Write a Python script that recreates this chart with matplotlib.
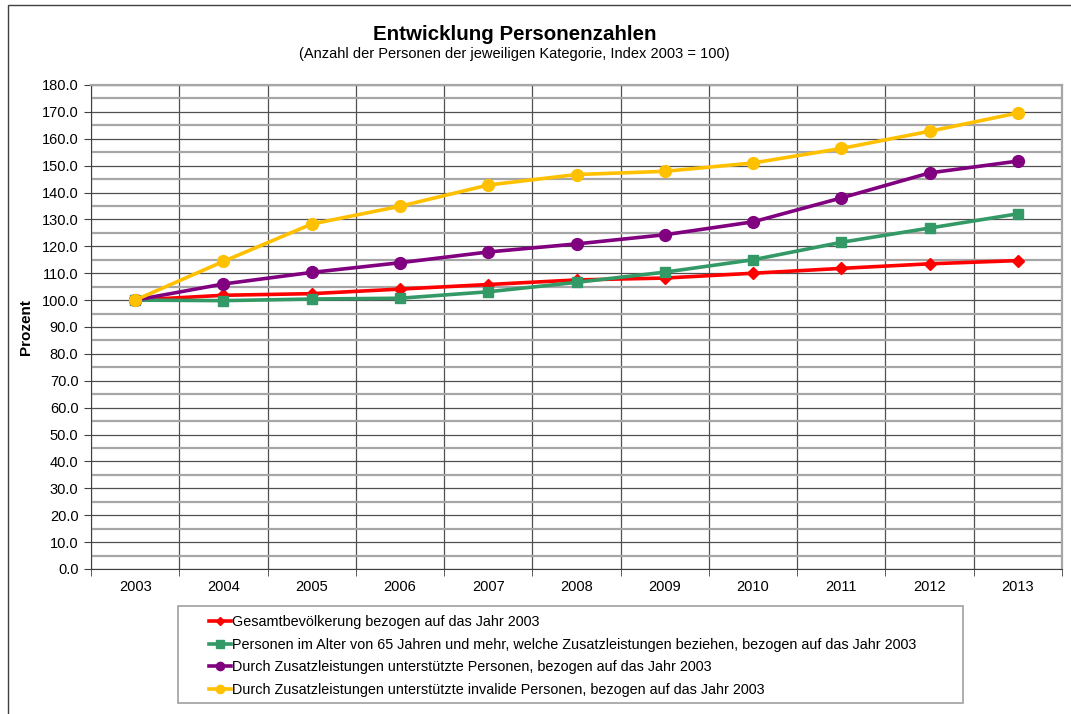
import matplotlib
matplotlib.use('Agg')
import matplotlib.pyplot as plt
from matplotlib.patches import Rectangle
from matplotlib.ticker import MultipleLocator, FixedLocator

plt.rcParams['font.family'] = ['Liberation Sans', 'DejaVu Sans']

# Data (index 2003 = 100)
years = ['2003', '2004', '2005', '2006', '2007', '2008', '2009', '2010', '2011', '2012', '2013']
gesamt = [100.0, 101.8, 102.4, 104.1, 105.8, 107.5, 108.2, 110.0, 111.8, 113.5, 114.7]
ab65 = [100.0, 99.8, 100.4, 100.7, 103.1, 106.6, 110.4, 115.0, 121.5, 126.8, 132.1]
unterstuetzt = [100.0, 106.0, 110.3, 113.9, 117.9, 120.9, 124.3, 129.1, 138.0, 147.3, 151.7]
invalide = [100.0, 114.4, 128.3, 134.9, 142.8, 146.7, 147.9, 151.0, 156.4, 162.8, 169.6]

labels = [
    'Gesamtbevölkerung bezogen auf das Jahr 2003',
    'Personen im Alter von 65 Jahren und mehr, welche Zusatzleistungen beziehen, bezogen auf das Jahr 2003',
    'Durch Zusatzleistungen unterstützte Personen, bezogen auf das Jahr 2003',
    'Durch Zusatzleistungen unterstützte invalide Personen, bezogen auf das Jahr 2003',
]

W, H = 1071, 714
fig = plt.figure(figsize=(W / 100, H / 100), dpi=100)

# outer chart border (only left/top visible in the crop)
fig.patches.append(Rectangle((8 / W, -0.1), 1.2, 1 - 5 / H + 0.1, transform=fig.transFigure,
                             fill=False, edgecolor='#404040', linewidth=1.0))

ax = fig.add_axes([91 / W, 1 - 569 / H, (1062 - 91) / W, (569 - 85) / H])

x = list(range(len(years)))
ax.plot(x, gesamt, color='#FF0000', marker='D', markersize=6.5, linewidth=2.6, label=labels[0], zorder=3)
ax.plot(x, ab65, color='#339966', marker='s', markersize=7.5, linewidth=2.6, label=labels[1], zorder=4)
ax.plot(x, unterstuetzt, color='#800080', marker='o', markersize=8.5, linewidth=2.6, label=labels[2], zorder=5)
ax.plot(x, invalide, color='#FFC000', marker='o', markersize=8.5, linewidth=2.6, label=labels[3], zorder=6)

ax.set_xlim(-0.5, len(years) - 0.5)
ax.set_ylim(0, 180)

ax.set_xticks(x)
ax.set_xticklabels(years, fontsize=10.5)
ax.xaxis.set_minor_locator(FixedLocator([i + 0.5 for i in range(-1, len(years))]))
ax.tick_params(axis='x', which='major', length=0, pad=8)
ax.tick_params(axis='x', which='minor', length=5, color='#404040')

ax.yaxis.set_minor_locator(MultipleLocator(5))
ax.set_yticks(range(0, 190, 10))
ax.set_yticklabels([f'{v:.1f}' for v in range(0, 190, 10)], fontsize=10.5)
ax.tick_params(axis='y', which='major', length=5, color='#404040', pad=4)
ax.tick_params(axis='y', which='minor', length=0)

ax.grid(True, axis='y', which='major', color='#505050', linewidth=0.9)
ax.grid(True, axis='y', which='minor', color='#A6A6A6', linewidth=1.6)
ax.grid(True, axis='x', which='minor', color='#505050', linewidth=0.9)
ax.set_axisbelow(True)

ax.spines['left'].set_color('#404040')
ax.spines['bottom'].set_color('#404040')
ax.spines['top'].set_color('#A6A6A6')
ax.spines['right'].set_color('#A6A6A6')
ax.spines['top'].set_linewidth(1.6)
ax.spines['right'].set_linewidth(1.6)

ax.set_ylabel('Prozent', fontsize=11, fontweight='bold', labelpad=6)

fig.text(515 / W, 1 - 35 / H, 'Entwicklung Personenzahlen', ha='center', va='center',
         fontsize=14.8, fontweight='bold')
fig.text(514 / W, 1 - 54 / H, '(Anzahl der Personen der jeweiligen Kategorie, Index 2003 = 100)',
         ha='center', va='center', fontsize=10.5)

# legend frame
fig.patches.append(Rectangle((178 / W, 1 - 703 / H), (963 - 178) / W, (703 - 606) / H,
                             transform=fig.transFigure, fill=False, edgecolor='#A0A0A0', linewidth=1.2))
fig.legend(loc='upper left', bbox_to_anchor=(196 / W, 1 - 602 / H), frameon=False,
           fontsize=10.4, handlelength=1.5, handletextpad=0.1, labelspacing=0.6,
           markerscale=0.7)

fig.savefig('out.png', dpi=100)
